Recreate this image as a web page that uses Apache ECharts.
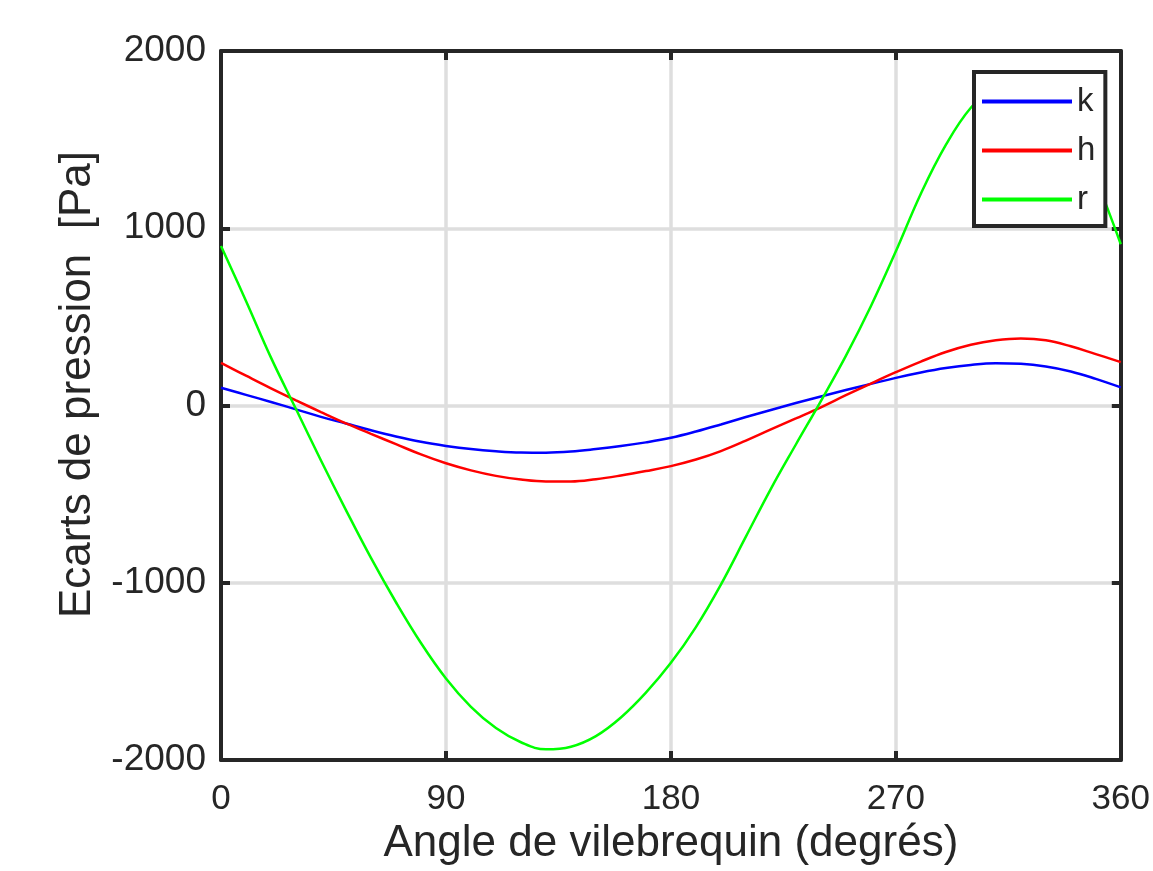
<!DOCTYPE html>
<html>
<head>
<meta charset="utf-8">
<script src="https://cdn.jsdelivr.net/npm/echarts@6/dist/echarts.min.js"></script>
<style>
  html, body { margin: 0; padding: 0; background: #fff; }
  #chart { width: 1153px; height: 871px; }
</style>
</head>
<body>
<div id="chart"></div>
<script>
// angle de vilebrequin, pas de 10 degres
const angles = [0, 10, 20, 30, 40, 50, 60, 70, 80, 90, 100, 110, 120, 130, 140, 150, 160, 170, 180,
  190, 200, 210, 220, 230, 240, 250, 260, 270, 280, 290, 300, 310, 320, 330, 340, 350, 360]
const kValues = [100, 60, 20, -22, -64, -102, -140, -175, -205, -228, -246, -258, -265, -266, -260, -246, -229, -208, -182,
  -147, -107, -65, -25, 14, 51, 87, 122, 156, 186, 211, 229, 238, 235, 220, 192, 150, 102]
const hValues = [240, 168, 97, 29, -37, -101, -160, -218, -276, -326, -366, -397, -418, -429, -429, -416, -395, -370, -342,
  -305, -257, -198, -135, -73, -10, 58, 124, 188, 248, 302, 343, 368, 378, 368, 334, 290, 245]
const rValues = [900, 590, 270, -20, -310, -590, -860, -1110, -1340, -1540, -1700, -1820, -1900, -1940, -1925, -1865, -1760, -1620, -1452,
  -1250, -1010, -740, -470, -220, 25, 280, 560, 870, 1195, 1470, 1680, 1800, 1845, 1780, 1600, 1280, 910]
const xTicks = [0, 90, 180, 270, 360]
const yTicks = [-2000, -1000, 0, 1000, 2000]

const ink = '#262626'

function pairs(values) {
  return angles.map((a, i) => [a, values[i]])
}

const chart = echarts.init(document.getElementById('chart'))

const boxAxis = {
  axisLine: { show: true, onZero: false, lineStyle: { color: ink, width: 4 } },
  axisTick: { show: true, inside: true, length: 9, lineStyle: { color: ink, width: 4 } },
  axisLabel: { show: false },
  splitLine: { show: false }
}

const option = {
  animation: false,
  backgroundColor: '#ffffff',
  grid: { left: 221, right: 27, top: 51, bottom: 111 },
  legend: {
    orient: 'vertical',
    left: 974,
    top: 72,
    z: 20,
    padding: [13, 10, 10, 8],
    itemGap: 16,
    itemWidth: 90,
    itemHeight: 4,
    icon: 'rect',
    backgroundColor: '#fff',
    borderColor: ink,
    borderWidth: 4,
    textStyle: { fontFamily: 'Liberation Sans', fontSize: 33, color: ink, lineHeight: 30 },
    data: ['k', 'h', 'r']
  },
  xAxis: [
    {
      type: 'value',
      min: xTicks[0],
      max: xTicks[xTicks.length - 1],
      interval: 90,
      name: 'Angle de vilebrequin (degrés)',
      nameLocation: 'middle',
      nameGap: 56,
      nameTextStyle: { fontFamily: 'Liberation Sans', fontSize: 44, color: ink },
      axisLine: { show: true, onZero: false, lineStyle: { color: ink, width: 4 } },
      axisTick: { show: true, inside: true, length: 9, lineStyle: { color: ink, width: 4 } },
      axisLabel: { fontFamily: 'Liberation Sans', fontSize: 35, color: ink, margin: 22 },
      splitLine: { show: true, lineStyle: { color: '#dedede', width: 3.5 } }
    },
    Object.assign({ type: 'value', position: 'top', min: 0, max: 360, interval: 90 }, boxAxis)
  ],
  yAxis: [
    {
      type: 'value',
      min: yTicks[0],
      max: yTicks[yTicks.length - 1],
      interval: 1000,
      name: 'Ecarts de pression  [Pa]',
      nameLocation: 'middle',
      nameGap: 121,
      nameTextStyle: { fontFamily: 'Liberation Sans', fontSize: 44, color: ink, padding: [0, 0, 0, 42] },
      axisLine: { show: true, onZero: false, lineStyle: { color: ink, width: 4 } },
      axisTick: { show: true, inside: true, length: 9, lineStyle: { color: ink, width: 4 } },
      axisLabel: { fontFamily: 'Liberation Sans', fontSize: 37, color: ink, margin: 15, formatter: v => String(v) },
      splitLine: { show: true, lineStyle: { color: '#dedede', width: 3.5 } }
    },
    Object.assign({ type: 'value', position: 'right', min: -2000, max: 2000, interval: 1000 }, boxAxis)
  ],
  series: [
    { name: 'k', type: 'line', data: pairs(kValues), smooth: 0.4, symbol: 'none', lineStyle: { color: '#0000ff', width: 2.5 }, itemStyle: { color: '#0000ff' }, z: 2 },
    { name: 'h', type: 'line', data: pairs(hValues), smooth: 0.4, symbol: 'none', lineStyle: { color: '#ff0000', width: 2.5 }, itemStyle: { color: '#ff0000' }, z: 2 },
    { name: 'r', type: 'line', data: pairs(rValues), smooth: 0.4, symbol: 'none', lineStyle: { color: '#00ff00', width: 2.5 }, itemStyle: { color: '#00ff00' }, z: 2 }
  ]
}

chart.setOption(option)
</script>
</body>
</html>
